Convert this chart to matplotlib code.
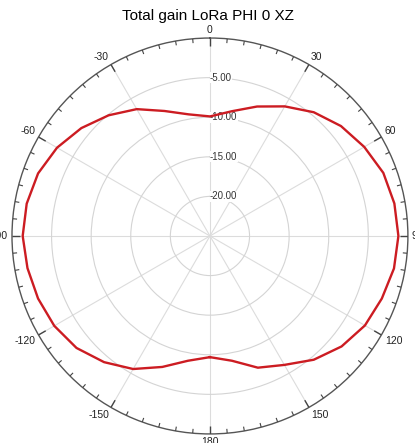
import matplotlib
matplotlib.use("Agg")
import matplotlib.pyplot as plt
import numpy as np

# angle (deg, clockwise from top) and total gain (dB)
angles = [-180, -170, -160, -150, -140, -130, -120, -110, -100, -90,
          -80, -70, -60, -50, -40, -30, -20, -10, 0,
          10, 20, 30, 40, 50, 60, 70, 80, 90,
          100, 110, 120, 130, 140, 150, 160, 170, 180]
gain_db = [-9.7, -9.0, -7.4, -5.6, -4.2, -3.0, -2.3, -1.9, -1.6, -1.35,
           -1.5, -1.9, -2.7, -3.8, -5.1, -6.5, -8.2, -9.4, -9.9,
           -9.0, -7.6, -6.1, -4.6, -3.4, -2.5, -1.7, -1.35, -1.2,
           -1.4, -1.9, -2.4, -3.3, -4.6, -6.2, -7.3, -9.0, -9.7]

theta_ticks = [0, 30, 60, 90, 120, 150, 180, 210, 240, 270, 300, 330]
theta_labels = ['0', '30', '60', '90', '120', '150', '180',
                '-150', '-120', '-90', '-60', '-30']
r_rings = [-20, -15, -10, -5]
r_labels = ['-20.00', '-15.00', '-10.00', '-5.00']

plt.rcParams['font.family'] = ['Liberation Sans', 'DejaVu Sans']

fig = plt.figure(figsize=(4.15, 4.43), dpi=100)
ax = fig.add_axes([0.0289, 0.0203, 0.954, 0.894], projection='polar')
ax.set_theta_zero_location('N')
ax.set_theta_direction(-1)
ax.set_ylim(-25, 0)

ax.plot(np.deg2rad(angles), gain_db, color='#cc1c22', linewidth=1.7, zorder=5)

# grid
ax.set_xticks(np.deg2rad(theta_ticks))
ax.set_xticklabels([])
ax.tick_params(axis='x', which='major', length=0)
ax.xaxis.grid(True, which='major', color='#dcdcdc', linewidth=0.8)
ax.set_yticks(r_rings)
ax.set_yticklabels([])
ax.yaxis.grid(True, color='#d4d4d4', linewidth=0.8)
ax.spines['polar'].set_color('#555555')
ax.spines['polar'].set_linewidth(1.0)

# scale ticks on the rim, every 5 deg, longer every 30 deg
minor_deg = [d for d in range(0, 360, 5) if d % 30]
ax.vlines(np.deg2rad(minor_deg), -0.55, 0, color='#444444', linewidth=0.8, zorder=6)
ax.vlines(np.deg2rad(theta_ticks), -1.05, 0, color='#444444', linewidth=1.0, zorder=6)

# angle labels just outside the rim
for d, lab in zip(theta_ticks, theta_labels):
    s, c = np.sin(np.deg2rad(d)), np.cos(np.deg2rad(d))
    ha = 'left' if s > 0.1 else ('right' if s < -0.1 else 'center')
    va = 'bottom' if c > 0.1 else ('top' if c < -0.1 else 'center')
    ax.annotate(lab, xy=(np.deg2rad(d), 0), xytext=(4 * s, 3 * c),
                textcoords='offset pixels', ha=ha, va=va, fontsize=7.5,
                color='#222222', annotation_clip=False)

for r, lab in zip(r_rings, r_labels):
    ax.text(0.0, r, lab, fontsize=7, color='#333333', ha='left', va='center',
            bbox=dict(facecolor='white', edgecolor='none', pad=0.3), zorder=3)

fig.suptitle('Total gain LoRa PHI 0 XZ', x=0.5, y=0.98, fontsize=11)

plt.savefig('out.png', dpi=100)
